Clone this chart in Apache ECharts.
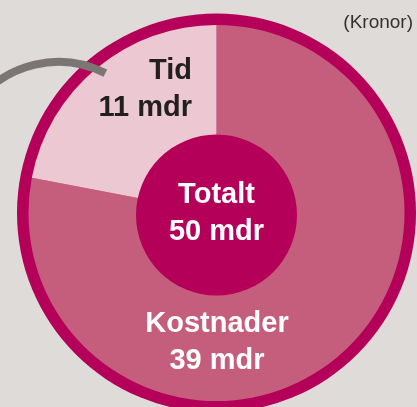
<!DOCTYPE html>
<html>
<head>
<meta charset="utf-8">
<script src="https://cdn.jsdelivr.net/npm/echarts@6/dist/echarts.min.js"></script>
<style>
  html, body { margin: 0; padding: 0; background: #dedbd8; }
  #chart { width: 417px; height: 407px; }
</style>
</head>
<body>
<div id="chart"></div>
<script>
// data
var names = ['Kostnader', 'Tid'];
var values = [39, 11];
var unit = 'mdr';
var totalLabel = 'Totalt';
var note = '(Kronor)';

var total = values.reduce(function (a, b) { return a + b; }, 0);
var sliceColors = ['#c55e7c', '#ecc9d2'];
var textColors = ['#ffffff', '#231f20'];
var font = '"Liberation Sans", Arial, sans-serif';

var chart = echarts.init(document.getElementById('chart'));

var option = {
    backgroundColor: '#dedbd8',
    animation: false,
    series: [
        {
            // ytterkant
            type: 'pie',
            silent: true,
            center: [216.5, 213],
            radius: [0, 199.5],
            label: { show: false },
            itemStyle: { color: '#b5005a', borderWidth: 0 },
            data: [{ value: total, name: '' }]
        },
        {
            type: 'pie',
            center: [216.5, 213],
            radius: [0, 188],
            startAngle: 90,
            clockwise: true,
            itemStyle: { borderWidth: 0 },
            label: {
                show: true,
                position: 'inside',
                fontFamily: font,
                fontWeight: 'bold',
                fontSize: 29,
                lineHeight: 37,
                formatter: function (p) {
                    return p.name + '\n' + p.value + ' ' + unit;
                }
            },
            labelLine: { show: false },
            labelLayout: function (p) {
                if (p.dataIndex === 0) {
                    return { x: 217, y: 342, align: 'center', verticalAlign: 'middle' };
                }
                return { x: 192, y: 89, align: 'right', verticalAlign: 'middle' };
            },
            data: names.map(function (n, i) {
                return {
                    name: n,
                    value: values[i],
                    itemStyle: { color: sliceColors[i] },
                    label: { color: textColors[i] }
                };
            })
        },
        {
            // totalt i mitten
            type: 'pie',
            silent: true,
            center: [216.5, 215],
            radius: [0, 80.5],
            itemStyle: { color: '#b5005a', borderWidth: 0 },
            label: {
                show: true,
                position: 'center',
                color: '#ffffff',
                fontFamily: font,
                fontWeight: 'bold',
                fontSize: 29,
                lineHeight: 37,
                offset: [0, -2],
                formatter: totalLabel + '\n' + total + ' ' + unit
            },
            labelLine: { show: false },
            data: [{ value: total, name: totalLabel }]
        }
    ],
    graphic: [
        {
            type: 'arc',
            z: 100,
            shape: { cx: 58.4, cy: 165.4, r: 103.5, startAngle: -2.5, endAngle: -1.1, clockwise: true },
            style: { fill: null, stroke: '#7b7573', lineWidth: 8, lineCap: 'butt' }
        },
        {
            type: 'text',
            right: 4,
            top: 13,
            style: {
                text: note,
                fill: '#333333',
                font: '19px ' + font
            }
        }
    ]
};

chart.setOption(option);
</script>
</body>
</html>
